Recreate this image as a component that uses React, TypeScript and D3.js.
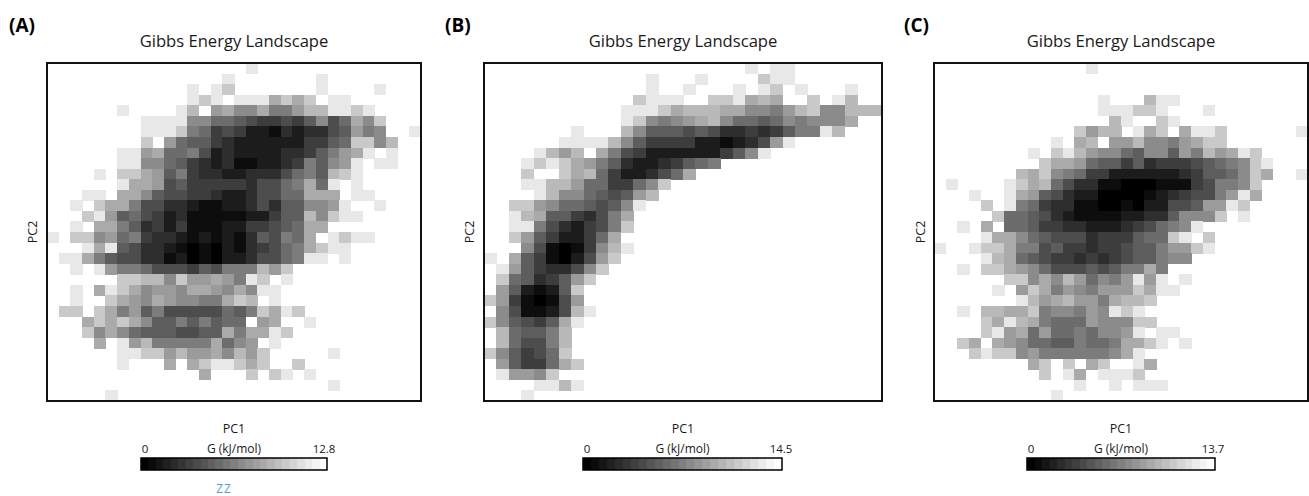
import React from 'react';
import * as d3 from 'd3';

const width = 1309;
const height = 496;

// each row is one bin row of the landscape, each char a grey level 0-f, '.' = no data
const rowsA = [
	'.................f',
	'...............f.......f',
	'............f.fd.......f....f',
	'............fdf.fffbdbd.ff',
	'......f....fc.ab99b88accffdf',
	'........ffff99776544546957b9d',
	'........fffd87454221323356a89..f',
	'........d.a766432222224467dd9c',
	'......ffab778523222233468abf.f',
	'......ff99764323112234869af.ff',
	'....f.ddba68433223335786cdf',
	'......fbba564444435578b7f.f',
	'...ff.bb96554432235577bbb.ff',
	'..f.dbb85533211223536699af..f',
	'...dfa6754231111122466c9dff',
	'..f.bb8634241112244567bb',
	'f.dd9a7843321212136587b.fdff',
	'...fbf6533210102134578bdff',
	'.ffb865533120102235578ff.f',
	'..f.fa887555465888cad',
	'......ddcc9daaba8fd.f',
	'..f.bfdb9aa9bba9b9ff',
	'..f..dba9ba9988bdc.f',
	'.dd.db8a6855555768dbfd',
	'...bdbdb966868677.ab..f',
	'...d9b976665566b8bbfd',
	'....b.fac88888b79a.f',
	'......ffddacaab9cad.....f',
	'......f...b.bdffdbd..d',
	'.............b...d.df.f',
	'........................f',
	'.....f',
];

const rowsB = [
	'.....................f.ff',
	'.............f...f....dff',
	'.............f..f...f.fd.f...f',
	'............dfff..ddfbcb..d.fc',
	'...........fffdbcccbb998acd99ccc',
	'...........fd989abc9776798999b',
	'.......f...c966656533434688fc',
	'......ffffc96444422123' + '5af',
	'....fcac.b854222222469f',
	'...fdfdba8632234678',
	'...d..dbc7422357b',
	'...ffcca774479d',
	'....fc997656ac',
	'..dda9776569f',
	'..fcb664358b',
	'..ff8532458d',
	'..da642247b',
	'...9510149cf',
	'f.b641025ad',
	'.fa643359d',
	'.d76346ad',
	'.a62126d',
	'da41015a',
	'.951125cf',
	'd96546bf',
	'.c7668c',
	'.c7558c',
	'd96457d',
	'.a6447bd',
	'.faa9d',
	'....ffcf',
	'...f',
];

const rowsC = [
	'.............f',
	'',
	'',
	'..............f...cff',
	'..............fffddf...f',
	'...............cf..df',
	'............dacc.fbd.bffd......f',
	'..........f.bc.aac998abdd',
	'........f.dfca9976996a8cabfd',
	'.........dbba76646344456789df',
	'.......cbd98744222222346679db..f',
	'.f....fdbc75331100011145889d',
	'...f..fba6532200001234558afb',
	'....d.f8743311001022556aafd',
	'.....d776532111122336999d.f',
	'..f.b.7764433222345789f',
	'....fbb9765553444677df.d',
	'f..fddb8856443445668aadf',
	'....fcb765443434566899',
	'..f.ddba9755565688b8',
	'......dd9b9ca798afaf.f',
	'.....f.adb8a98aaadbff',
	'.......fcabcaa8bccd',
	'..f.ccbbd8998a9fdf',
	'....dbfcb8777a999dd',
	'....dfab7a778799af.ff',
	'..db.ba977668778bbdf.f',
	'...dfdd9a8888889bf',
	'........bd.d.bd..fb',
	'.........d.fb.fffd',
	'............f..f.fff',
	'..........f',
];

const panelLetters = ['(A)', '(B)', '(C)'];
const gMax = [12.8, 14.5, 13.7];
const grids = [rowsA, rowsB, rowsC];

const binCount = 32;
const levelTop = 16.5; // grey level that would be pure white
const barSteps = 25;

const layout = [
	{ left: 47, right: 421, letterX: 9, pc2X: 37, barL: 141, barR: 327, maxX: 324 },
	{ left: 484, right: 882, letterX: 445, pc2X: 474, barL: 583, barR: 782, maxX: 781 },
	{ left: 934, right: 1308, letterX: 904, pc2X: 925, barL: 1027, barR: 1215, maxX: 1213 },
];
const top = 63;
const bottom = 401;

const font = '"Open Sans", "Noto Sans", sans-serif';

const Panel = ({ index }: { index: number }) => {
	const { left, right, letterX, pc2X, barL, barR, maxX } = layout[index];
	const max = gMax[index];
	const mid = (left + right) / 2;
	const bins = d3.range(binCount);
	const x = d3.scaleBand<number>().domain(bins).range([left, right]);
	const y = d3.scaleBand<number>().domain(bins).range([top, bottom]);
	const color = d3.scaleLinear<string>().domain([0, max]).range(['#000000', '#ffffff']);
	const cells = grids[index].flatMap((row, r) =>
		row.split('').flatMap((ch, c) =>
			ch === '.' ? [] : [{ r, c, g: (parseInt(ch, 16) / levelTop) * max }]
		)
	);
	const barX = d3.scaleBand<number>().domain(d3.range(barSteps)).range([barL, barR]);
	return (
		<g fontFamily={font} fill="#1a1a1a">
			<text x={letterX} y={32} fontSize={19} fontWeight="bold" fill="#000">
				{panelLetters[index]}
			</text>
			<text x={mid} y={47} fontSize={16.6} textAnchor="middle">
				Gibbs Energy Landscape
			</text>
			<g shapeRendering="crispEdges" filter="url(#soft)">
				{cells.map((d) => (
					<rect
						key={`${d.r}-${d.c}`}
						x={x(d.c)}
						y={y(d.r)}
						width={x.bandwidth() + 0.5}
						height={y.bandwidth() + 0.5}
						fill={color(d.g)}
					/>
				))}
			</g>
			<rect x={left} y={top} width={right - left} height={bottom - top} fill="none" stroke="#111" strokeWidth={2} />
			<text x={mid} y={432.5} fontSize={12.5} textAnchor="middle">
				PC1
			</text>
			<text
				transform={`translate(${pc2X},${(top + bottom) / 2}) rotate(-90)`}
				fontSize={12.5}
				textAnchor="middle"
			>
				PC2
			</text>
			<text x={barL + 4} y={453} fontSize={11.5} textAnchor="middle">
				0
			</text>
			<text x={(barL + barR) / 2} y={453} fontSize={12} textAnchor="middle">
				G (kJ/mol)
			</text>
			<text x={maxX} y={453} fontSize={11.5} textAnchor="middle">
				{max}
			</text>
			<g shapeRendering="crispEdges">
				{barX.domain().map((s) => (
					<rect
						key={s}
						x={barX(s)}
						y={458}
						width={barX.bandwidth() + 0.5}
						height={12}
						fill={color((s / (barSteps - 1)) * max)}
					/>
				))}
			</g>
			<rect x={barL} y={458} width={barR - barL} height={12} fill="none" stroke="#000" strokeWidth={1.5} />
		</g>
	);
};

const App = () => {
	return (
		<svg
			width={width}
			height={height}
			style={{ position: 'absolute', left: 0, top: 0, display: 'block', background: '#fff' }}
		>
			<defs>
				<filter id="soft">
					<feGaussianBlur stdDeviation={0.5} />
				</filter>
			</defs>
			{panelLetters.map((_, i) => (
				<Panel key={i} index={i} />
			))}
			<text x={224} y={492.5} fontSize={12} textAnchor="middle" letterSpacing={1} fontFamily={font} fill="#5b9bd5">
				ZZ
			</text>
		</svg>
	);
};

export default App;
